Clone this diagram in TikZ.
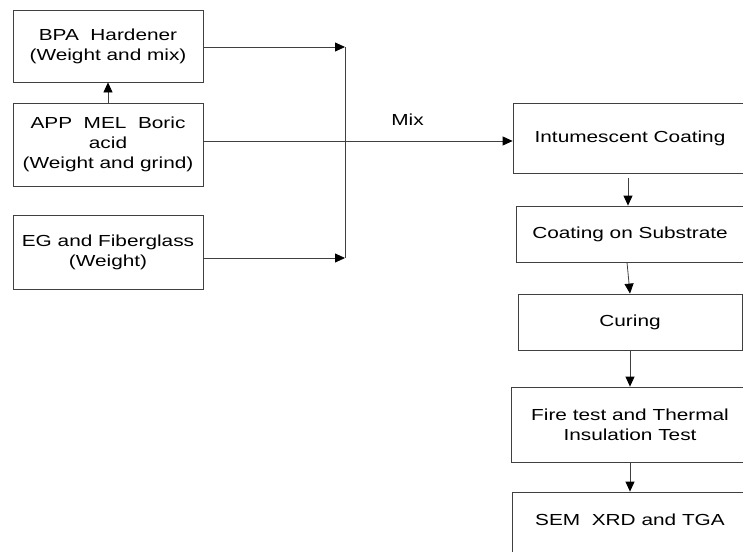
\documentclass[tikz,border=0pt]{standalone}
\usepackage{fontspec}
\setmainfont{Liberation Sans}
\newfontfamily\boxfont[FakeStretch=1.3]{Liberation Sans}
\usepackage{tikz}
\usetikzlibrary{arrows.meta}

\begin{document}
\begin{tikzpicture}[x=1pt,y=-1pt,
   box/.style={
      draw = black!75,
      line width = .8pt,
      align = center,
      inner sep = 0pt,
      font = \boxfont\fontsize{16}{20}\selectfont
   },
   arr/.style={
      draw = black!75,
      line width = .8pt,
      -{Triangle[length=10pt,width=9pt,black]}
   }]
   \useasboundingbox (0,0) rectangle (743,551);

   % left column
   \node[box, minimum width=190pt, minimum height=72pt] (bpa) at (108,46) {BPA\ \ Hardener\\(Weight and mix)};
   \node[box, minimum width=190pt, minimum height=83pt] (app) at (108,144.5) {APP\ \ MEL\ \ Boric\\acid\\(Weight and grind)};
   \node[box, minimum width=190pt, minimum height=74pt] (eg) at (108,252) {EG and Fiberglass\\(Weight)};

   % right column (cut off at the edge)
   \node[box, minimum width=234pt, minimum height=70pt] (intu) at (630,138) {Intumescent Coating};
   \node[box, minimum width=228pt, minimum height=56pt] (coat) at (630,234) {Coating on Substrate};
   \node[box, minimum width=224pt, minimum height=56pt] (cure) at (630,322) {Curing};
   \node[box, minimum width=238pt, minimum height=75pt] (fire) at (630,424.5) {Fire test and Thermal\\Insulation Test};
   \node[box, minimum width=236pt, minimum height=80pt] (sem) at (630,532) {SEM\ \ XRD and TGA\\[4pt]};

   \coordinate (top) at (345,47);
   \coordinate (bot) at (345,258);

   \draw[arr] (app.north) -- (bpa.south);
   \draw[arr] (bpa.east |- top) -- (top);
   \draw[arr] (eg.east |- bot) -- (bot);
   \draw[draw=black!75, line width=.8pt] (top) -- (bot);
   \draw[arr] (app.east |- 0,141) -- (intu.west |- 0,141)
      node[pos=.66, above=12pt, font=\boxfont\fontsize{16}{18}\selectfont] (mix) {Mix};

   \draw[arr, shorten <=5pt] ([xshift=-2pt]intu.south) -- ([xshift=-2pt]coat.north);
   \draw[arr] ([xshift=-3pt]coat.south) -- (cure.north);
   \draw[arr] (cure.south) -- (fire.north);
   \draw[arr] (fire.south) -- (sem.north);
\end{tikzpicture}
\end{document}
